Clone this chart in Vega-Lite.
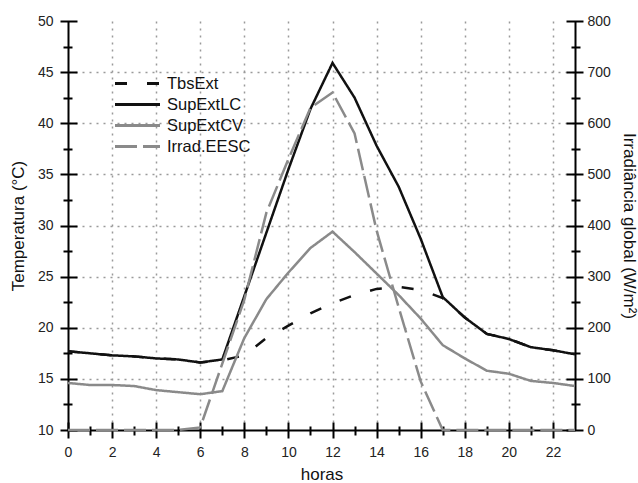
{
  "$schema": "https://vega.github.io/schema/vega-lite/v6.json",
  "autosize": {"type": "none"},
  "padding": {"left": 68, "top": 21, "right": 63, "bottom": 53},
  "width": 507,
  "height": 409,
  "background": "white",
  "data": {"values": [
    {"hora":0,"serie":"TbsExt","valor":17.7},{"hora":1,"serie":"TbsExt","valor":17.5},{"hora":2,"serie":"TbsExt","valor":17.3},{"hora":3,"serie":"TbsExt","valor":17.2},{"hora":4,"serie":"TbsExt","valor":17.0},{"hora":5,"serie":"TbsExt","valor":16.9},{"hora":6,"serie":"TbsExt","valor":16.6},{"hora":7,"serie":"TbsExt","valor":16.8},{"hora":8,"serie":"TbsExt","valor":17.3},{"hora":9,"serie":"TbsExt","valor":19.0},{"hora":10,"serie":"TbsExt","valor":20.2},{"hora":11,"serie":"TbsExt","valor":21.4},{"hora":12,"serie":"TbsExt","valor":22.4},{"hora":13,"serie":"TbsExt","valor":23.2},{"hora":14,"serie":"TbsExt","valor":23.8},{"hora":15,"serie":"TbsExt","valor":24.0},{"hora":16,"serie":"TbsExt","valor":23.7},{"hora":17,"serie":"TbsExt","valor":22.9},{"hora":18,"serie":"TbsExt","valor":21.0},{"hora":19,"serie":"TbsExt","valor":19.4},{"hora":20,"serie":"TbsExt","valor":18.9},{"hora":21,"serie":"TbsExt","valor":18.1},{"hora":22,"serie":"TbsExt","valor":17.8},{"hora":23,"serie":"TbsExt","valor":17.4},
    {"hora":0,"serie":"SupExtLC","valor":17.7},{"hora":1,"serie":"SupExtLC","valor":17.5},{"hora":2,"serie":"SupExtLC","valor":17.3},{"hora":3,"serie":"SupExtLC","valor":17.2},{"hora":4,"serie":"SupExtLC","valor":17.0},{"hora":5,"serie":"SupExtLC","valor":16.9},{"hora":6,"serie":"SupExtLC","valor":16.6},{"hora":7,"serie":"SupExtLC","valor":16.9},{"hora":8,"serie":"SupExtLC","valor":23.1},{"hora":9,"serie":"SupExtLC","valor":29.3},{"hora":10,"serie":"SupExtLC","valor":35.5},{"hora":11,"serie":"SupExtLC","valor":41.4},{"hora":12,"serie":"SupExtLC","valor":45.9},{"hora":13,"serie":"SupExtLC","valor":42.5},{"hora":14,"serie":"SupExtLC","valor":37.8},{"hora":15,"serie":"SupExtLC","valor":33.8},{"hora":16,"serie":"SupExtLC","valor":28.7},{"hora":17,"serie":"SupExtLC","valor":23.0},{"hora":18,"serie":"SupExtLC","valor":21.0},{"hora":19,"serie":"SupExtLC","valor":19.4},{"hora":20,"serie":"SupExtLC","valor":18.9},{"hora":21,"serie":"SupExtLC","valor":18.1},{"hora":22,"serie":"SupExtLC","valor":17.8},{"hora":23,"serie":"SupExtLC","valor":17.4},
    {"hora":0,"serie":"SupExtCV","valor":14.6},{"hora":1,"serie":"SupExtCV","valor":14.4},{"hora":2,"serie":"SupExtCV","valor":14.4},{"hora":3,"serie":"SupExtCV","valor":14.3},{"hora":4,"serie":"SupExtCV","valor":13.9},{"hora":5,"serie":"SupExtCV","valor":13.7},{"hora":6,"serie":"SupExtCV","valor":13.5},{"hora":7,"serie":"SupExtCV","valor":13.8},{"hora":8,"serie":"SupExtCV","valor":19.0},{"hora":9,"serie":"SupExtCV","valor":22.8},{"hora":10,"serie":"SupExtCV","valor":25.4},{"hora":11,"serie":"SupExtCV","valor":27.8},{"hora":12,"serie":"SupExtCV","valor":29.4},{"hora":13,"serie":"SupExtCV","valor":27.4},{"hora":14,"serie":"SupExtCV","valor":25.3},{"hora":15,"serie":"SupExtCV","valor":23.2},{"hora":16,"serie":"SupExtCV","valor":20.9},{"hora":17,"serie":"SupExtCV","valor":18.3},{"hora":18,"serie":"SupExtCV","valor":17.0},{"hora":19,"serie":"SupExtCV","valor":15.8},{"hora":20,"serie":"SupExtCV","valor":15.5},{"hora":21,"serie":"SupExtCV","valor":14.8},{"hora":22,"serie":"SupExtCV","valor":14.6},{"hora":23,"serie":"SupExtCV","valor":14.3},
    {"hora":0,"serie":"Irrad.EESC","valor":0},{"hora":1,"serie":"Irrad.EESC","valor":0},{"hora":2,"serie":"Irrad.EESC","valor":0},{"hora":3,"serie":"Irrad.EESC","valor":0},{"hora":4,"serie":"Irrad.EESC","valor":0},{"hora":5,"serie":"Irrad.EESC","valor":0},{"hora":6,"serie":"Irrad.EESC","valor":5},{"hora":7,"serie":"Irrad.EESC","valor":130},{"hora":8,"serie":"Irrad.EESC","valor":255},{"hora":9,"serie":"Irrad.EESC","valor":425},{"hora":10,"serie":"Irrad.EESC","valor":530},{"hora":11,"serie":"Irrad.EESC","valor":630},{"hora":12,"serie":"Irrad.EESC","valor":660},{"hora":13,"serie":"Irrad.EESC","valor":580},{"hora":14,"serie":"Irrad.EESC","valor":390},{"hora":15,"serie":"Irrad.EESC","valor":240},{"hora":16,"serie":"Irrad.EESC","valor":95},{"hora":17,"serie":"Irrad.EESC","valor":0},{"hora":18,"serie":"Irrad.EESC","valor":0},{"hora":19,"serie":"Irrad.EESC","valor":0},{"hora":20,"serie":"Irrad.EESC","valor":0},{"hora":21,"serie":"Irrad.EESC","valor":0},{"hora":22,"serie":"Irrad.EESC","valor":0},{"hora":23,"serie":"Irrad.EESC","valor":0}
  ]},
  "resolve": {"scale": {"y": "independent"}, "axis": {"x": "independent", "y": "independent"}},
  "layer": [
    {
      "transform": [{"filter": "datum.serie === 'TbsExt'"}],
      "mark": {"type": "line", "strokeWidth": 2.5},
      "encoding": {
        "x": {"field": "hora", "type": "quantitative", "scale": {"domain": [0, 23], "nice": false, "zero": false},
          "axis": {"orient": "bottom", "values": [0,2,4,6,8,10,12,14,16,18,20,22], "offset": -8, "tickSize": 16, "domain": false, "labelPadding": 7, "labelFlush": false, "labelOverlap": false, "title": "horas", "titlePadding": 7,
            "grid": true, "gridColor": "#9a9a9a", "gridDash": [2, 5], "gridWidth": 1.5, "gridOpacity": {"condition": {"test": "datum.value == 0", "value": 0}, "value": 1}}},
        "y": {"field": "valor", "type": "quantitative", "scale": {"domain": [10, 50], "nice": false, "zero": false},
          "axis": {"orient": "left", "values": [10,15,20,25,30,35,40,45,50], "offset": -9, "tickSize": 17, "domain": false, "labelPadding": 7, "labelFlush": false, "labelOverlap": false, "title": "Temperatura (°C)", "titlePadding": 10,
            "grid": true, "gridColor": "#9a9a9a", "gridDash": [2, 5], "gridWidth": 1.5, "gridOpacity": {"condition": {"test": "datum.value == 10 || datum.value == 50", "value": 0}, "value": 1}}},
        "color": {"field": "serie", "type": "nominal", "scale": {"domain": ["TbsExt", "SupExtLC", "SupExtCV", "Irrad.EESC"], "range": ["#111111", "#111111", "#8a8a8a", "#8a8a8a"]}, "legend": {"orient": "none", "legendX": 59, "legendY": 52, "title": null}},
        "strokeDash": {"field": "serie", "type": "nominal", "scale": {"domain": ["TbsExt", "SupExtLC", "SupExtCV", "Irrad.EESC"], "range": [[12, 20], [1, 0], [1, 0], [22, 6]]}, "legend": {"orient": "none", "legendX": 59, "legendY": 52, "title": null}}
      }
    },
    {
      "transform": [{"filter": "datum.serie === 'SupExtCV'"}],
      "mark": {"type": "line", "strokeWidth": 2.5},
      "encoding": {
        "x": {"field": "hora", "type": "quantitative", "scale": {"domain": [0, 23], "nice": false, "zero": false},
          "axis": {"orient": "bottom", "values": [1,3,5,7,9,11,13,15,17,19,21], "offset": -4, "tickSize": 9, "domain": false, "labels": false, "title": null, "grid": false}},
        "y": {"field": "valor", "type": "quantitative", "scale": {"domain": [10, 50], "nice": false, "zero": false},
          "axis": {"orient": "left", "values": [12.5,17.5,22.5,27.5,32.5,37.5,42.5,47.5], "offset": -4, "tickSize": 9, "domain": false, "labels": false, "title": null, "grid": false}},
        "color": {"field": "serie", "type": "nominal"},
        "strokeDash": {"field": "serie", "type": "nominal"}
      }
    },
    {
      "transform": [{"filter": "datum.serie === 'SupExtLC'"}],
      "mark": {"type": "line", "strokeWidth": 2.5},
      "encoding": {
        "x": {"field": "hora", "type": "quantitative", "scale": {"domain": [0, 23], "nice": false, "zero": false},
          "axis": {"orient": "bottom", "values": [0, 23], "ticks": false, "labels": false, "title": null, "domain": true,
            "grid": true, "gridColor": "#000000", "gridWidth": 2, "gridDash": []}},
        "y": {"field": "valor", "type": "quantitative", "scale": {"domain": [10, 50], "nice": false, "zero": false},
          "axis": {"orient": "right", "values": [12.5,17.5,22.5,27.5,32.5,37.5,42.5,47.5], "offset": -4, "tickSize": 9, "domain": false, "labels": false, "title": null, "grid": false}},
        "color": {"field": "serie", "type": "nominal"},
        "strokeDash": {"field": "serie", "type": "nominal"}
      }
    },
    {
      "transform": [{"filter": "datum.serie === 'Irrad.EESC'"}],
      "mark": {"type": "line", "strokeWidth": 2.5},
      "encoding": {
        "x": {"field": "hora", "type": "quantitative", "scale": {"domain": [0, 23], "nice": false, "zero": false}, "axis": null},
        "y": {"field": "valor", "type": "quantitative", "scale": {"domain": [0, 800], "nice": false, "zero": false},
          "axis": {"orient": "right", "values": [0,100,200,300,400,500,600,700,800], "offset": -9, "tickSize": 17, "domain": false, "labelPadding": 4, "labelFlush": false, "labelOverlap": false, "title": "Irradiância global (W/m²)", "titlePadding": 9, "grid": false}},
        "color": {"field": "serie", "type": "nominal"},
        "strokeDash": {"field": "serie", "type": "nominal"}
      }
    }
  ],
  "config": {
    "view": {"stroke": null},
    "font": "Liberation Sans",
    "axis": {"domainColor": "#000000", "domainWidth": 2, "tickColor": "#000000", "tickWidth": 2, "labelFont": "Liberation Sans", "labelFontSize": 14, "labelColor": "#222222", "titleFont": "Liberation Sans", "titleFontSize": 17, "titleFontWeight": "normal", "titleColor": "#111111"},
    "legend": {"symbolType": "M-2.5,0L2.5,0", "symbolSize": 324, "symbolStrokeWidth": 3, "labelFont": "Liberation Sans", "labelFontSize": 16.5, "labelColor": "#111111", "rowPadding": 2, "labelOffset": 19, "padding": 0}
  }
}
